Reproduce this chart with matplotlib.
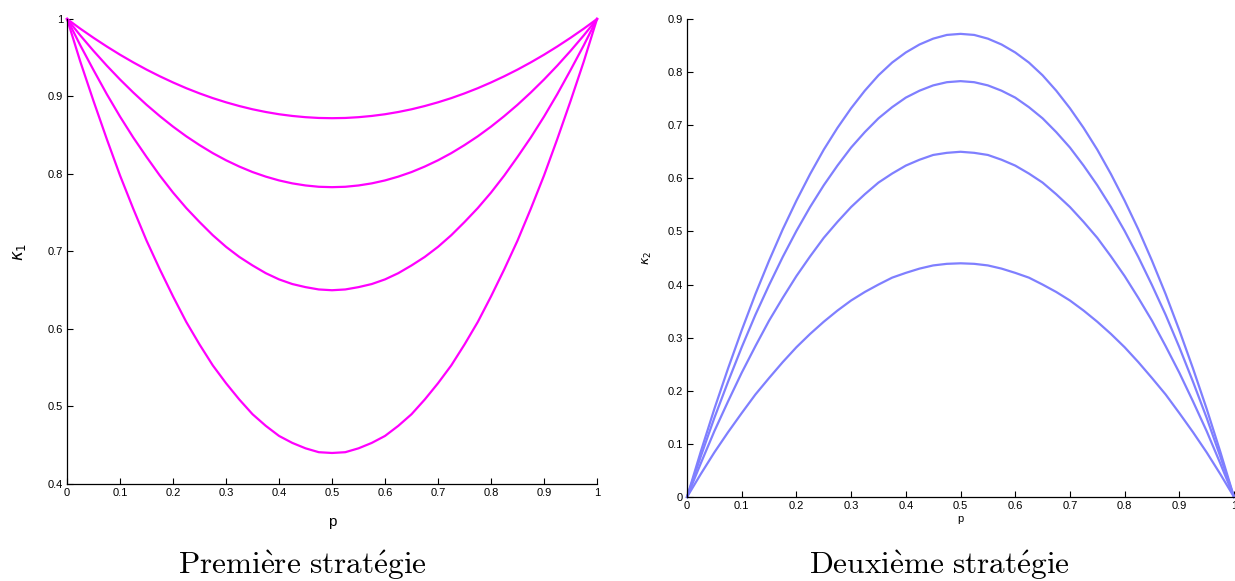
import matplotlib
matplotlib.use("Agg")
import matplotlib.pyplot as plt
from matplotlib.ticker import FormatStrFormatter, MultipleLocator

plt.rcParams['font.family'] = ['Liberation Sans', 'DejaVu Sans']

# valeurs de p
p = [0.000, 0.025, 0.050, 0.075, 0.100, 0.125, 0.150, 0.175, 0.200, 0.225,
     0.250, 0.275, 0.300, 0.325, 0.350, 0.375, 0.400, 0.425, 0.450, 0.475,
     0.500, 0.525, 0.550, 0.575, 0.600, 0.625, 0.650, 0.675, 0.700, 0.725,
     0.750, 0.775, 0.800, 0.825, 0.850, 0.875, 0.900, 0.925, 0.950, 0.975,
     1.000]

# kappa_1 : première stratégie
kappa1_a = [1.0000, 0.9875, 0.9757, 0.9645, 0.9539, 0.9440, 0.9347, 0.9261, 0.9181, 0.9107,
            0.9040, 0.8979, 0.8925, 0.8877, 0.8835, 0.8800, 0.8771, 0.8749, 0.8733, 0.8723,
            0.8720, 0.8723, 0.8733, 0.8749, 0.8771, 0.8800, 0.8835, 0.8877, 0.8925, 0.8979,
            0.9040, 0.9107, 0.9181, 0.9261, 0.9347, 0.9440, 0.9539, 0.9645, 0.9757, 0.9875,
            1.0000]
kappa1_b = [1.0000, 0.9788, 0.9588, 0.9398, 0.9219, 0.9051, 0.8893, 0.8747, 0.8611, 0.8486,
            0.8373, 0.8269, 0.8177, 0.8096, 0.8025, 0.7966, 0.7917, 0.7879, 0.7852, 0.7835,
            0.7830, 0.7835, 0.7852, 0.7879, 0.7917, 0.7966, 0.8025, 0.8096, 0.8177, 0.8269,
            0.8373, 0.8486, 0.8611, 0.8747, 0.8893, 0.9051, 0.9219, 0.9398, 0.9588, 0.9788,
            1.0000]
kappa1_c = [1.000, 0.966, 0.934, 0.903, 0.874, 0.847, 0.822, 0.798, 0.776, 0.756,
            0.738, 0.721, 0.706, 0.693, 0.682, 0.672, 0.664, 0.658, 0.654, 0.651,
            0.650, 0.651, 0.654, 0.658, 0.664, 0.672, 0.682, 0.693, 0.706, 0.721,
            0.738, 0.756, 0.776, 0.798, 0.822, 0.847, 0.874, 0.903, 0.934, 0.966,
            1.000]
kappa1_d = [1.000, 0.945, 0.894, 0.845, 0.798, 0.755, 0.714, 0.677, 0.642, 0.609,
            0.580, 0.553, 0.530, 0.509, 0.490, 0.475, 0.462, 0.453, 0.446, 0.441,
            0.440, 0.441, 0.446, 0.453, 0.462, 0.475, 0.490, 0.509, 0.530, 0.553,
            0.580, 0.609, 0.642, 0.677, 0.714, 0.755, 0.798, 0.845, 0.894, 0.945,
            1.000]

# kappa_2 : deuxième stratégie
kappa2_a = [0.000, 0.085, 0.166, 0.242, 0.314, 0.382, 0.445, 0.504, 0.558, 0.608,
            0.654, 0.695, 0.732, 0.765, 0.794, 0.818, 0.837, 0.852, 0.863, 0.870,
            0.872, 0.870, 0.863, 0.852, 0.837, 0.818, 0.794, 0.765, 0.732, 0.695,
            0.654, 0.608, 0.558, 0.504, 0.445, 0.382, 0.314, 0.242, 0.166, 0.085,
            0.000]
kappa2_b = [0.000, 0.076, 0.149, 0.217, 0.282, 0.343, 0.399, 0.452, 0.501, 0.546,
            0.587, 0.624, 0.658, 0.687, 0.713, 0.734, 0.752, 0.765, 0.775, 0.781,
            0.783, 0.781, 0.775, 0.765, 0.752, 0.734, 0.713, 0.687, 0.658, 0.624,
            0.587, 0.546, 0.501, 0.452, 0.399, 0.343, 0.282, 0.217, 0.149, 0.076,
            0.000]
kappa2_c = [0.000, 0.063, 0.124, 0.180, 0.234, 0.284, 0.332, 0.375, 0.416, 0.453,
            0.488, 0.518, 0.546, 0.570, 0.592, 0.609, 0.624, 0.635, 0.644, 0.648,
            0.650, 0.648, 0.644, 0.635, 0.624, 0.609, 0.592, 0.570, 0.546, 0.518,
            0.488, 0.453, 0.416, 0.375, 0.332, 0.284, 0.234, 0.180, 0.124, 0.063,
            0.000]
kappa2_d = [0.000, 0.043, 0.084, 0.122, 0.158, 0.193, 0.224, 0.254, 0.282, 0.307,
            0.330, 0.351, 0.370, 0.386, 0.400, 0.413, 0.422, 0.430, 0.436, 0.439,
            0.440, 0.439, 0.436, 0.430, 0.422, 0.413, 0.400, 0.386, 0.370, 0.351,
            0.330, 0.307, 0.282, 0.254, 0.224, 0.193, 0.158, 0.122, 0.084, 0.043,
            0.000]

x_ticks = [0, 0.1, 0.2, 0.3, 0.4, 0.5, 0.6, 0.7, 0.8, 0.9, 1]

fig = plt.figure(figsize=(12.35, 5.81), dpi=100)
ax1 = fig.add_axes([0.0543, 0.167, 0.4291, 0.8003])
ax2 = fig.add_axes([0.5563, 0.1446, 0.4429, 0.8227])


def style(ax):
    for s in ('top', 'right'):
        ax.spines[s].set_visible(False)
    for s in ('left', 'bottom'):
        ax.spines[s].set_linewidth(0.9)
    ax.tick_params(direction='in', length=4, width=0.8, labelsize=8, pad=3)
    ax.set_xticks(x_ticks)
    ax.xaxis.set_major_formatter(FormatStrFormatter('%g'))
    ax.yaxis.set_major_formatter(FormatStrFormatter('%g'))


for k in (kappa1_a, kappa1_b, kappa1_c, kappa1_d):
    ax1.plot(p, k, color='#ff00ff', lw=1.6, clip_on=False, solid_joinstyle='round')
ax1.set_xlim(0, 1)
ax1.set_ylim(0.4, 1)
ax1.yaxis.set_major_locator(MultipleLocator(0.1))
style(ax1)
ax1.set_xlabel('p', fontsize=11, labelpad=12)
ax1.set_ylabel(r'$\kappa_1$', fontsize=12, labelpad=14, math_fontfamily='dejavusans')

for k in (kappa2_a, kappa2_b, kappa2_c, kappa2_d):
    ax2.plot(p, k, color='#7f7fff', lw=1.6, clip_on=False, solid_joinstyle='round')
ax2.set_xlim(0, 1)
ax2.set_ylim(0, 0.9)
ax2.yaxis.set_major_locator(MultipleLocator(0.1))
style(ax2)
ax2.set_xlabel('p', fontsize=8, labelpad=2)
ax2.set_ylabel(r'$\kappa_2$', fontsize=9, labelpad=10, math_fontfamily='dejavusans')

fig.text(0.245, 0.028, r'$\mathrm{Premi\grave{e}re\ strat\acute{e}gie}$',
         ha='center', va='center', fontsize=22.5, math_fontfamily='cm')
fig.text(0.761, 0.028, r'$\mathrm{Deuxi\grave{e}me\ strat\acute{e}gie}$',
         ha='center', va='center', fontsize=22.5, math_fontfamily='cm')

fig.savefig('out.png', dpi=100)
